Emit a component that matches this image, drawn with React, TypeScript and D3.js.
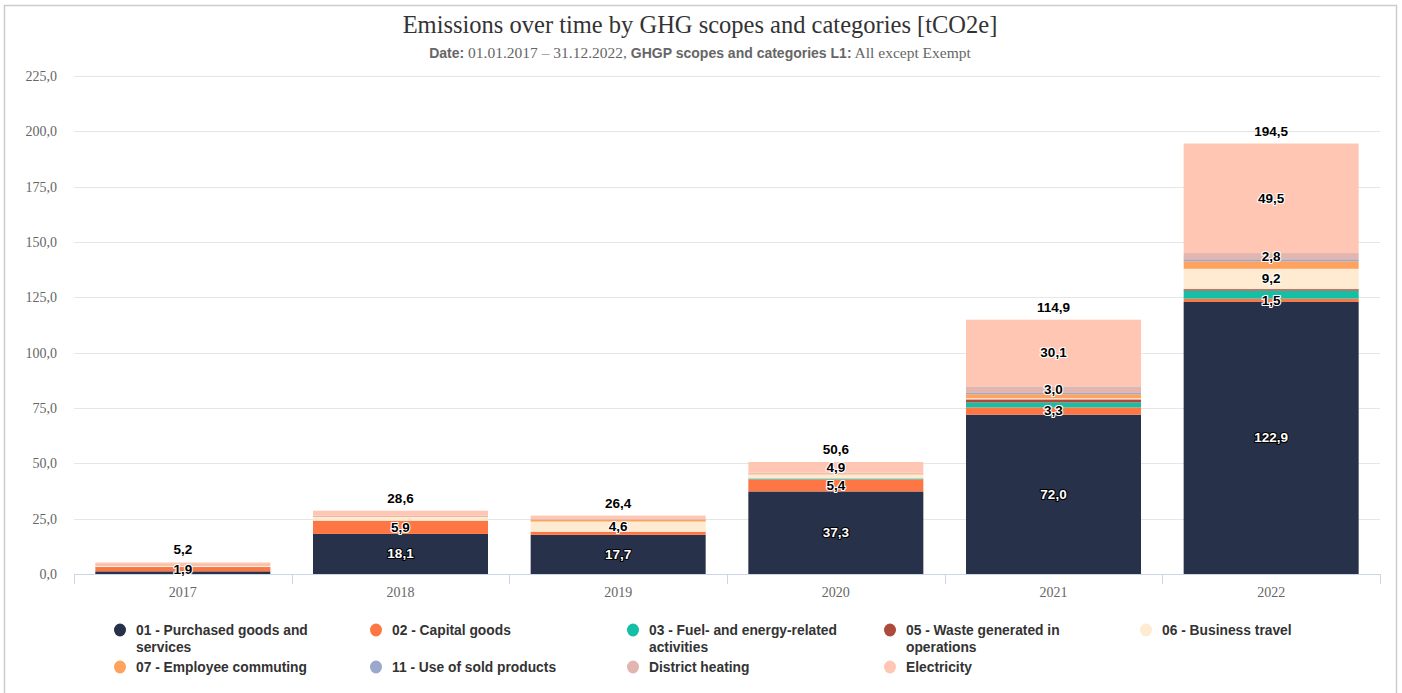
import React, { useEffect, useRef } from "react";
import * as d3 from "d3";

const categories = ["2017", "2018", "2019", "2020", "2021", "2022"];

const seriesNames = [
  "01 - Purchased goods and services",
  "02 - Capital goods",
  "03 - Fuel- and energy-related activities",
  "05 - Waste generated in operations",
  "06 - Business travel",
  "07 - Employee commuting",
  "11 - Use of sold products",
  "District heating",
  "Electricity",
];

const seriesColors = [
  "#27324a",
  "#ff7645",
  "#14bfa6",
  "#ad4a3b",
  "#ffead2",
  "#ffa15f",
  "#9aa8cb",
  "#e2b6af",
  "#ffc7b3",
];

// values per series, one per year
const purchasedGoods = [1.2, 18.1, 17.7, 37.3, 72.0, 122.9];
const capitalGoods = [1.9, 5.9, 1.3, 5.4, 3.3, 1.5];
const fuelEnergy = [0, 0, 0, 0.4, 2.2, 3.6];
const waste = [0.1, 0.1, 0.1, 0.1, 1.4, 0.7];
const businessTravel = [0.6, 1.7, 4.6, 1.8, 0.5, 9.2];
const commuting = [0.3, 0.3, 0.9, 0.4, 1.8, 3.4];
const soldProducts = [0.1, 0.1, 0.1, 0.1, 0.6, 0.9];
const districtHeating = [0.3, 0.2, 0.1, 0.2, 3.0, 2.8];
const electricity = [0.7, 2.2, 1.6, 4.9, 30.1, 49.5];

const seriesValues = [
  purchasedGoods,
  capitalGoods,
  fuelEnergy,
  waste,
  businessTravel,
  commuting,
  soldProducts,
  districtHeating,
  electricity,
];

const yTicks = [0, 25, 50, 75, 100, 125, 150, 175, 200, 225];

const W = 1402;
const H = 693;
const SANS = "'Liberation Sans', Arial, sans-serif";
const SERIF = "'Liberation Serif', 'Times New Roman', serif";

const fmt = (v: number) => v.toFixed(1).replace(".", ",");

const Chart = () => {
  const ref = useRef<SVGSVGElement>(null);

  useEffect(() => {
    const svg = d3.select(ref.current);
    svg.selectAll("*").remove();

    const margin = { left: 74, right: 1380, top: 76, bottom: 574 };

    // frame
    svg
      .append("rect")
      .attr("x", 4.5)
      .attr("y", 5.5)
      .attr("width", 1392)
      .attr("height", 700)
      .attr("fill", "#fff")
      .attr("stroke", "#cccccc")
      .attr("stroke-width", 1.5);

    // title
    svg
      .append("text")
      .attr("x", 700)
      .attr("y", 33)
      .attr("text-anchor", "middle")
      .style("font-family", SERIF)
      .style("font-size", "24.5px")
      .attr("fill", "#333333")
      .text("Emissions over time by GHG scopes and categories [tCO2e]");

    const sub = svg
      .append("text")
      .attr("x", 700)
      .attr("y", 58)
      .attr("text-anchor", "middle")
      .attr("fill", "#666666");
    const parts: [string, boolean][] = [
      ["Date:", true],
      [" 01.01.2017 – 31.12.2022, ", false],
      ["GHGP scopes and categories L1:", true],
      [" All except Exempt", false],
    ];
    parts.forEach(([t, bold]) => {
      sub
        .append("tspan")
        .style("font-family", bold ? SANS : SERIF)
        .style("font-weight", bold ? "bold" : "normal")
        .style("font-size", bold ? "14px" : "15.5px")
        .text(t);
    });

    const x = d3
      .scaleBand()
      .domain(categories)
      .range([margin.left, margin.right])
      .paddingInner(0.196)
      .paddingOuter(0.098);

    const y = d3.scaleLinear().domain([0, 225]).range([margin.bottom, margin.top]);

    // grid
    svg
      .append("g")
      .selectAll("line")
      .data(yTicks.filter((d) => d > 0))
      .enter()
      .append("line")
      .attr("x1", margin.left)
      .attr("x2", margin.right)
      .attr("y1", (d) => Math.round(y(d)) + 0.5)
      .attr("y2", (d) => Math.round(y(d)) + 0.5)
      .attr("stroke", "#e6e6e6");

    // y labels
    svg
      .append("g")
      .selectAll("text")
      .data(yTicks)
      .enter()
      .append("text")
      .attr("x", 57)
      .attr("y", (d) => y(d) + 5)
      .attr("text-anchor", "end")
      .style("font-family", SERIF)
      .style("font-size", "14px")
      .attr("fill", "#666666")
      .text((d) => fmt(d));

    // stacked data
    const table = categories.map((c, i) => {
      const row: any = { year: c };
      seriesNames.forEach((s, j) => (row[s] = seriesValues[j][i]));
      return row;
    });
    const stack = d3.stack().keys(seriesNames)(table);

    const bars = svg.append("g");
    stack.forEach((layer, j) => {
      bars
        .append("g")
        .attr("fill", seriesColors[j])
        .selectAll("rect")
        .data(layer)
        .enter()
        .append("rect")
        .attr("x", (d: any) => x(d.data.year)!)
        .attr("width", x.bandwidth())
        .attr("y", (d) => y(d[1]))
        .attr("height", (d) => Math.max(0, y(d[0]) - y(d[1])));
    });

    // x axis
    svg
      .append("line")
      .attr("x1", margin.left)
      .attr("x2", margin.right)
      .attr("y1", margin.bottom + 0.5)
      .attr("y2", margin.bottom + 0.5)
      .attr("stroke", "#ccd6eb");
    const step = x.step();
    svg
      .append("g")
      .selectAll("line")
      .data(d3.range(categories.length + 1))
      .enter()
      .append("line")
      .attr("x1", (i) => Math.round(margin.left + i * step) + 0.5)
      .attr("x2", (i) => Math.round(margin.left + i * step) + 0.5)
      .attr("y1", margin.bottom)
      .attr("y2", margin.bottom + 10)
      .attr("stroke", "#ccd6eb");
    svg
      .append("g")
      .selectAll("text")
      .data(categories)
      .enter()
      .append("text")
      .attr("x", (d) => x(d)! + x.bandwidth() / 2)
      .attr("y", 597)
      .attr("text-anchor", "middle")
      .style("font-family", SERIF)
      .style("font-size", "14px")
      .attr("fill", "#666666")
      .text((d) => d);

    // segment labels, hide overlapping (series order wins)
    const labelH = 16;
    categories.forEach((c, i) => {
      const kept: number[] = [];
      stack.forEach((layer, j) => {
        const v = seriesValues[j][i];
        if (v < 1.5) return;
        const cy = (y(layer[i][0]) + y(layer[i][1])) / 2;
        if (kept.some((k) => Math.abs(k - cy) < labelH)) return;
        kept.push(cy);
        const dark = j === 0;
        svg
          .append("text")
          .attr("x", x(c)! + x.bandwidth() / 2)
          .attr("y", cy + 4.5)
          .attr("text-anchor", "middle")
          .style("font-family", SANS)
          .style("font-size", "13.5px")
          .style("font-weight", "bold")
          .style("paint-order", "stroke")
          .attr("stroke", dark ? "#000000" : "#ffffff")
          .attr("stroke-width", 2.2)
          .attr("stroke-linejoin", "round")
          .attr("fill", dark ? "#ffffff" : "#000000")
          .text(fmt(v));
      });
    });

    // totals
    svg
      .append("g")
      .selectAll("text")
      .data(categories)
      .enter()
      .append("text")
      .attr("x", (d) => x(d)! + x.bandwidth() / 2)
      .attr("y", (d, i) => y(d3.sum(seriesValues, (s) => s[i])) - 8)
      .attr("text-anchor", "middle")
      .style("font-family", SANS)
      .style("font-size", "13.5px")
      .style("font-weight", "bold")
      .attr("fill", "#000000")
      .text((d, i) => fmt(d3.sum(seriesValues, (s) => s[i])));

    // legend
    const ctx = document.createElement("canvas").getContext("2d")!;
    ctx.font = "bold 13.8px 'Liberation Sans', Arial, sans-serif";
    const wrap = (t: string, max: number) => {
      const words = t.split(" ");
      const lines: string[] = [];
      let cur = "";
      words.forEach((w) => {
        const test = cur ? cur + " " + w : w;
        if (cur && ctx.measureText(test).width > max) {
          lines.push(cur);
          cur = w;
        } else cur = test;
      });
      lines.push(cur);
      return lines;
    };
    const colX = [120, 376, 633, 890, 1146];
    const rowY = [630, 667];
    const legend = svg.append("g");
    seriesNames.forEach((s, j) => {
      const cx = colX[j % 5];
      const cy = rowY[Math.floor(j / 5)];
      legend
        .append("ellipse")
        .attr("cx", cx)
        .attr("cy", cy)
        .attr("rx", 6)
        .attr("ry", 6.5)
        .attr("fill", seriesColors[j]);
      const t = legend
        .append("text")
        .attr("x", cx + 16)
        .attr("y", cy + 5)
        .style("font-family", SANS)
        .style("font-size", "13.8px")
        .style("font-weight", "bold")
        .attr("fill", "#333333");
      wrap(s, 200).forEach((line, k) => {
        t.append("tspan")
          .attr("x", cx + 16)
          .attr("dy", k === 0 ? 0 : 17)
          .text(line);
      });
    });
  }, []);

  return <svg ref={ref} width={W} height={H} style={{ display: "block" }} />;
};

export default function App() {
  useEffect(() => {
    document.body.style.margin = "0";
  }, []);
  return <Chart />;
}
